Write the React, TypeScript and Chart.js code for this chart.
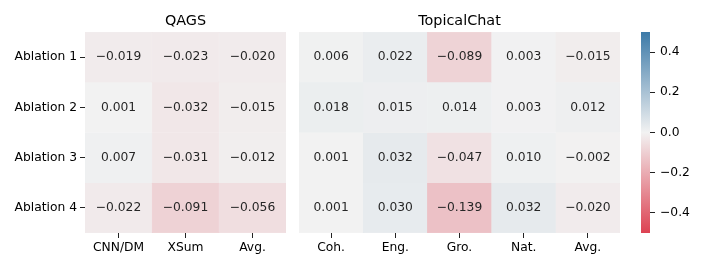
import React, { useEffect, useRef } from "react";
import { Chart, registerables } from "chart.js";

Chart.register(...registerables);

const rowLabels = ["Ablation 1", "Ablation 2", "Ablation 3", "Ablation 4"];

const qagsTitle = "QAGS";
const qagsCols = ["CNN/DM", "XSum", "Avg."];
const qagsAblation1 = [-0.019, -0.023, -0.02];
const qagsAblation2 = [0.001, -0.032, -0.015];
const qagsAblation3 = [0.007, -0.031, -0.012];
const qagsAblation4 = [-0.022, -0.091, -0.056];

const tcTitle = "TopicalChat";
const tcCols = ["Coh.", "Eng.", "Gro.", "Nat.", "Avg."];
const tcAblation1 = [0.006, 0.022, -0.089, 0.003, -0.015];
const tcAblation2 = [0.018, 0.015, 0.014, 0.003, 0.012];
const tcAblation3 = [0.001, 0.032, -0.047, 0.01, -0.002];
const tcAblation4 = [0.001, 0.03, -0.139, 0.032, -0.02];

const colorbarTicks = [-0.4, -0.2, 0, 0.2, 0.4];
const vMin = -0.5;
const vMax = 0.5;

const FONT = "'DejaVu Sans', sans-serif";
const FS = 12.3;
const NEG = [221, 66, 82];
const MID = [242, 242, 242];
const POS = [60, 122, 168];

function colorFor(v: number): string {
  const t = Math.max(-1, Math.min(1, v / vMax));
  const end = t < 0 ? NEG : POS;
  const a = Math.abs(t);
  const c = MID.map((m, i) => Math.round(m + (end[i] - m) * a));
  return `rgb(${c[0]},${c[1]},${c[2]})`;
}

function fmt(v: number, d: number): string {
  const s = v.toFixed(d);
  return s.replace("-", "\u2212");
}

const cellText = {
  id: "cellText",
  afterDatasetsDraw(chart: any) {
    const ctx = chart.ctx;
    ctx.save();
    ctx.font = `${FS}px ${FONT}`;
    ctx.fillStyle = "#262626";
    ctx.textAlign = "center";
    ctx.textBaseline = "middle";
    chart.data.datasets.forEach((ds: any, di: number) => {
      const meta = chart.getDatasetMeta(di);
      meta.data.forEach((el: any, i: number) => {
        const p = el.getProps(["x", "y", "base"], true);
        ctx.fillText(fmt(ds.values[i], 3), p.x, (p.y + p.base) / 2);
      });
    });
    ctx.restore();
  },
};

function heatmapConfig(title: string, cols: string[], rows: number[][], leftAxisWidth: number | null, padLeft: number, padRight: number): any {
  return {
    type: "bar",
    data: {
      labels: cols,
      datasets: rows.map((vals, r) => ({
        label: rowLabels[r],
        values: vals,
        data: vals.map(() => [r - 0.5, r + 0.5]),
        backgroundColor: vals.map((v) => colorFor(v)),
        borderColor: vals.map((v) => colorFor(v)),
        borderWidth: 0.5,
        borderSkipped: false,
        barPercentage: 1,
        categoryPercentage: 1,
        grouped: false,
      })),
    },
    options: {
      animation: false,
      responsive: false,
      maintainAspectRatio: false,
      devicePixelRatio: 1,
      layout: { padding: { left: padLeft, right: padRight, top: 0, bottom: 0 } },
      plugins: {
        legend: { display: false },
        tooltip: { enabled: false },
        title: {
          display: true,
          text: title,
          fullSize: false,
          color: "#000",
          font: { family: FONT, size: 14.4, weight: "normal", lineHeight: 1.2 },
          padding: { top: 12.5, bottom: 32 - 12.5 - 17.28 },
        },
      },
      scales: {
        x: {
          type: "category",
          offset: true,
          grid: { display: true, offset: false, drawOnChartArea: false, drawTicks: true, tickLength: 5, tickColor: "#222", tickWidth: 1 },
          border: { display: false },
          ticks: { color: "#000", padding: 2.5, font: { family: FONT, size: FS }, maxRotation: 0 },
          afterFit: (s: any) => { s.height = 35; },
        },
        y: {
          type: "linear",
          display: leftAxisWidth !== null,
          reverse: true,
          min: -0.5,
          max: rowLabels.length - 0.5,
          afterBuildTicks: (s: any) => { s.ticks = rowLabels.map((_, i) => ({ value: i })); },
          grid: { display: true, drawOnChartArea: false, drawTicks: true, tickLength: 5, tickColor: "#222", tickWidth: 1 },
          border: { display: false },
          ticks: {
            color: "#000",
            padding: 3,
            font: { family: FONT, size: FS },
            callback: (v: any) => rowLabels[Math.round(Number(v))] ?? "",
          },
          afterFit: (s: any) => { if (leftAxisWidth !== null) s.width = leftAxisWidth; },
        },
      },
    },
    plugins: [cellText],
  };
}

function colorbarConfig(): any {
  return {
    type: "bar",
    data: {
      labels: [""],
      datasets: [
        {
          data: [[vMin, vMax]],
          backgroundColor: (c: any) => {
            const area = c.chart.chartArea;
            if (!area) return "#ccc";
            const g = c.chart.ctx.createLinearGradient(0, area.bottom, 0, area.top);
            g.addColorStop(0, colorFor(vMin));
            g.addColorStop(0.5, colorFor(0));
            g.addColorStop(1, colorFor(vMax));
            return g;
          },
          borderWidth: 0,
          borderSkipped: false,
          barPercentage: 1,
          categoryPercentage: 1,
        },
      ],
    },
    options: {
      animation: false,
      responsive: false,
      maintainAspectRatio: false,
      devicePixelRatio: 1,
      layout: { padding: { left: 11, right: 0, top: 32, bottom: 35 } },
      plugins: { legend: { display: false }, tooltip: { enabled: false }, title: { display: false } },
      scales: {
        x: { type: "category", display: false, offset: true },
        y: {
          type: "linear",
          position: "right",
          min: vMin,
          max: vMax,
          afterBuildTicks: (s: any) => { s.ticks = colorbarTicks.map((v) => ({ value: v })); },
          grid: { display: true, drawOnChartArea: false, drawTicks: true, tickLength: 5, tickColor: "#222", tickWidth: 1 },
          border: { display: false },
          ticks: {
            color: "#000",
            padding: 5,
            font: { family: FONT, size: FS },
            callback: (v: any) => fmt(Number(v), 1),
          },
          afterFit: (s: any) => { s.width = 64; },
        },
      },
    },
  };
}

function ChartCanvas({ left, width, config }: { left: number; width: number; config: () => any }) {
  const ref = useRef<HTMLCanvasElement>(null);
  useEffect(() => {
    if (!ref.current) return;
    const chart = new Chart(ref.current, config());
    return () => chart.destroy();
  }, []);
  return (
    <canvas
      ref={ref}
      width={width}
      height={268}
      style={{ position: "absolute", left, top: 0, width, height: 268 }}
    />
  );
}

export default function App() {
  return (
    <div style={{ position: "fixed", left: 0, top: 0, width: 714, height: 268, background: "#fff" }}>
      <ChartCanvas
        left={0}
        width={292}
        config={() => heatmapConfig(qagsTitle, qagsCols, [qagsAblation1, qagsAblation2, qagsAblation3, qagsAblation4], 85, 0, 6)}
      />
      <ChartCanvas
        left={292}
        width={338}
        config={() => heatmapConfig(tcTitle, tcCols, [tcAblation1, tcAblation2, tcAblation3, tcAblation4], null, 7, 10)}
      />
      <ChartCanvas left={630} width={84} config={colorbarConfig} />
    </div>
  );
}
